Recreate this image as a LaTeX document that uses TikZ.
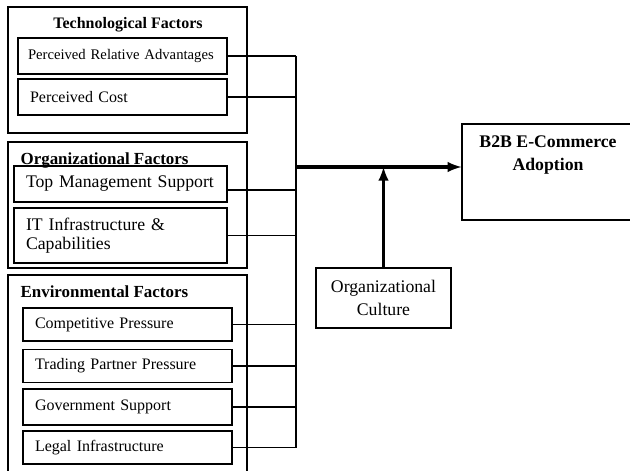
\documentclass[tikz,border=0pt]{standalone}
\usepackage{fontspec}
\setmainfont{Liberation Serif}
\usetikzlibrary{calc}

\begin{document}
\begin{tikzpicture}[
 x=0.75pt, y=-0.75pt,
 line width=0.9pt,
 >={latex},
 inner sep=0pt,
 group/.style={draw=black,rectangle,minimum width=239*0.75pt},
 factor/.style={draw=black,rectangle,align=left,inner xsep=12*0.75pt,text width=185*0.75pt,minimum height=33*0.75pt,font=\fontsize{12}{14}\selectfont},
 wide/.style={text width=189*0.75pt,font=\fontsize{13.3}{14.6}\selectfont},
 heading/.style={font=\bfseries\fontsize{12.7}{15}\selectfont},
 outcome/.style={draw=black,rectangle,minimum width=172*0.75pt,minimum height=96*0.75pt},
 moderator/.style={draw=black,rectangle,align=center,minimum width=135*0.75pt,minimum height=60*0.75pt,font=\fontsize{13.3}{17.25}\selectfont},
 link/.style={line width=2.5pt}
]
\useasboundingbox (0,0) rectangle (630,470);

% technological factors
\node (tech-box) [group,minimum height=126*0.75pt] at (127.5,70) {};
\node (tech-title) [heading,font=\bfseries\fontsize{12}{14}\selectfont] at (128,25) {Technological Factors};
\node (pra) [factor,minimum height=36*0.75pt,inner xsep=10*0.75pt,text width=189*0.75pt,font=\fontsize{11}{13}\selectfont] at (122.5,56) {Perceived Relative Advantages};
\node (pc) [factor,minimum height=36*0.75pt] at (122.5,97) {Perceived Cost};

% organizational factors
\node (org-box) [group,minimum height=126*0.75pt] at (127.5,205) {};
\node (org-title) [heading,anchor=west] at (20,160) {Organizational Factors};
\node (tms) [factor,wide,minimum height=36*0.75pt] at (120.5,184) {Top Management Support};
\node (it) [factor,wide,minimum height=55*0.75pt] at (120.5,235.5) {IT Infrastructure \&\\Capabilities};

% environmental factors
\node (env-box) [group,minimum height=230*0.75pt] at (127.5,390) {};
\node (env-title) [heading,anchor=west] at (20,292) {Environmental Factors};
\node (cp) [factor] at (127.5,324.5) {Competitive Pressure};
\node (tpp) [factor] at (127.5,366) {Trading Partner Pressure};
\node (gs) [factor,minimum height=36*0.75pt] at (127.5,407) {Government Support};
\node (li) [factor] at (127.5,447.5) {Legal Infrastructure};

% outcome and moderator
\node (b2b) [outcome] at (548,172) {};
\node (b2b-title) [anchor=north,align=center,font=\bfseries\fontsize{13.3}{17.25}\selectfont] at (548,135) {B2B E-Commerce\\Adoption};
\node (culture) [moderator] at (383.5,298) {Organizational\\Culture};

% collecting line
\coordinate (bus) at (296,0);
\coordinate (join) at (296,167);
\foreach \f in {pra,pc,it,cp,tpp,gs,li}
  \draw (\f.east) -- (\f.east -| bus);
\draw ([yshift=-4.5pt]tms.east) -- ([yshift=-4.5pt]tms.east -| bus);
\draw (pra.east -| bus) -- (li.east -| bus);

\draw[->,link] (join) -- (b2b.west |- join);
\draw[->,link] (culture.north) -- (culture.north |- join);
\end{tikzpicture}
\end{document}
